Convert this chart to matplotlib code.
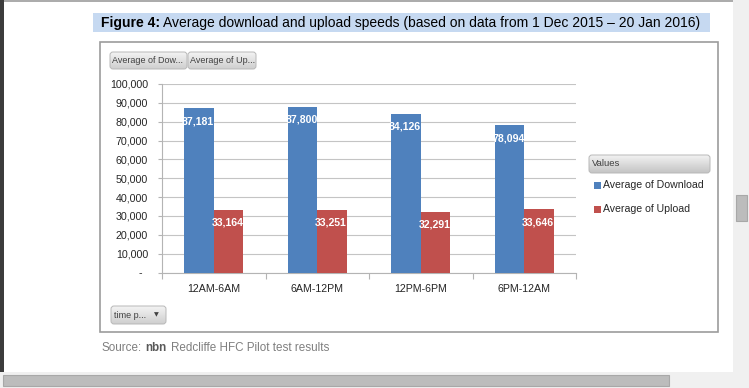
import matplotlib
matplotlib.use("Agg")
import matplotlib.pyplot as plt
import numpy as np
from matplotlib.patches import Rectangle, FancyBboxPatch
from matplotlib.colors import LinearSegmentedColormap
from matplotlib.transforms import offset_copy

# Datos de la tabla dinámica
categorias = ['12AM-6AM', '6AM-12PM', '12PM-6PM', '6PM-12AM']
descarga = [87181, 87800, 84126, 78094]
subida = [33164, 33251, 32291, 33646]
series = ['Average of Download', 'Average of Upload']
botones = ['Average of Dow...', 'Average of Up...']
ticks_y = list(range(0, 100001, 10000))

azul = '#4f81bd'
rojo = '#c0504d'
gris = '#b4b4b4'
texto = '#262626'

W, H = 749, 388
plt.rcParams['font.family'] = ['Liberation Sans', 'DejaVu Sans']

fig = plt.figure(figsize=(W / 100, H / 100), dpi=100)

# Capa de fondo en pixeles (y hacia abajo) para el marco de la página
fondo = fig.add_axes([0, 0, 1, 1], zorder=0)
fondo.set_autoscale_on(False)
fondo.set_xlim(0, W)
fondo.set_ylim(H, 0)
fondo.axis('off')

fondo.add_patch(Rectangle((0, 0), 4, 372, color='#3c3c3c', lw=0))       # borde oscuro izquierdo
fondo.add_patch(Rectangle((4, 0), 729, 2, color='#acacac', lw=0))       # sombra superior
fondo.add_patch(Rectangle((733, 0), 16, H, color='#f0f0f0', lw=0))      # zona de la barra vertical
fondo.add_patch(Rectangle((0, 372), W, 16, color='#f0f0f0', lw=0))      # zona de la barra horizontal
fondo.add_patch(Rectangle((3, 375), 666, 11, fc='#bcbcbc', ec='#a8a8a8', lw=0.8))
fondo.add_patch(Rectangle((736, 195), 11, 26, fc='#bcbcbc', ec='#a8a8a8', lw=0.8))

# Banda del título
fondo.add_patch(Rectangle((93, 13), 617, 19, color='#c6d9f1', lw=0))
fondo.text(101, 23, 'Figure 4:', fontsize=10, fontweight='bold', va='center', color='black')
fondo.text(163, 23, 'Average download and upload speeds (based on data from 1 Dec 2015 \u2013 20 Jan 2016)',
           fontsize=10, va='center', color='black')

# Marco del gráfico
fondo.add_patch(Rectangle((100, 42), 618, 290, fc='white', ec='#9c9c9c', lw=1.2))


def boton(x, y, w, h, etiqueta, size, c1='#f3f3f3', c2='#cfcfcf'):
    caja = FancyBboxPatch((x, y), w, h, boxstyle='round,pad=0,rounding_size=3',
                          fc='none', ec='#b8b8b8', lw=0.7, zorder=3)
    fondo.add_patch(caja)
    grad = np.linspace(0, 1, 30).reshape(-1, 1)
    cmap = LinearSegmentedColormap.from_list('g', [c1, c2])
    im = fondo.imshow(grad, cmap=cmap, extent=(x, x + w, y + h, y), aspect='auto', zorder=2)
    im.set_clip_path(caja)
    fondo.text(x + 2.5, y + h / 2, etiqueta, fontsize=size, va='center', color='#404040', zorder=4)


boton(110, 52, 77, 17, botones[0], 6.5)
boton(188, 52, 68, 17, botones[1], 6.5)
boton(111, 306, 55, 18, 'time p...', 6.5)
fondo.text(156, 315, '\u25bc', fontsize=4.5, family='DejaVu Sans', ha='center', va='center',
           color='#404040', zorder=4)

# Leyenda
boton(589, 155, 121, 18, 'Values', 6.8, c1='#f2f2f2', c2='#c4c4c4')
for i, (nombre, col) in enumerate(zip(series, [azul, rojo])):
    yy = 185 + i * 24
    fondo.add_patch(Rectangle((594, yy - 3.5), 7, 7, color=col, lw=0))
    fondo.text(603, yy, nombre, fontsize=7.6, va='center', color=texto)

# Fuente
fondo.text(101, 348, 'Source:', fontsize=8.4, va='center', color='#7f7f7f')
fondo.text(145, 348, 'nbn', fontsize=8.4, fontweight='bold', va='center', color='#595959')
fondo.text(171, 348, 'Redcliffe HFC Pilot test results', fontsize=8.4, va='center', color='#7f7f7f')

fondo.set_xlim(0, W)
fondo.set_ylim(H, 0)

# Área de trazado
ax = fig.add_axes([162 / W, 1 - 272.5 / H, 414 / W, 188.5 / H], zorder=2)
ax.patch.set_visible(False)

x = np.arange(len(categorias))
ancho = 0.285
b1 = ax.bar(x - ancho / 2, descarga, ancho, color=azul, zorder=3)
b2 = ax.bar(x + ancho / 2, subida, ancho, color=rojo, zorder=3)

ax.set_xlim(-0.5, len(categorias) - 0.5)
ax.set_ylim(0, 100000)
ax.set_yticks(ticks_y)
ax.set_yticklabels(['-  ' if v == 0 else '{:,}'.format(v) for v in ticks_y])
ax.yaxis.grid(True, color='#c4c4c4', lw=0.8)
ax.set_axisbelow(True)
ax.tick_params(axis='y', length=3, width=0.8, color=gris, pad=7, labelsize=7.7, labelcolor=texto)

ax.set_xticks(x)
ax.set_xticklabels(categorias)
ax.tick_params(axis='x', which='major', length=0, pad=8.5, labelsize=7.7, labelcolor=texto)
ax.set_xticks(np.arange(-0.5, len(categorias), 1), minor=True)
ax.tick_params(axis='x', which='minor', length=4, width=0.8, color=gris)

for lado in ['top', 'right']:
    ax.spines[lado].set_visible(False)
for lado in ['left', 'bottom']:
    ax.spines[lado].set_color(gris)
    ax.spines[lado].set_linewidth(0.8)

# Etiquetas de datos dentro de cada barra (recortadas a la barra)
trans = offset_copy(ax.transData, fig=fig, x=-1, y=-13, units='dots')
for barras in [b1, b2]:
    for b in barras:
        v = b.get_height()
        t = ax.text(b.get_x() + b.get_width() / 2, v, '{:,}'.format(int(v)), transform=trans,
                    ha='center', va='center', fontsize=7.6, fontweight='bold', color='white', zorder=4)
        t.set_clip_path(b)

fig.savefig('out.png', dpi=100)
